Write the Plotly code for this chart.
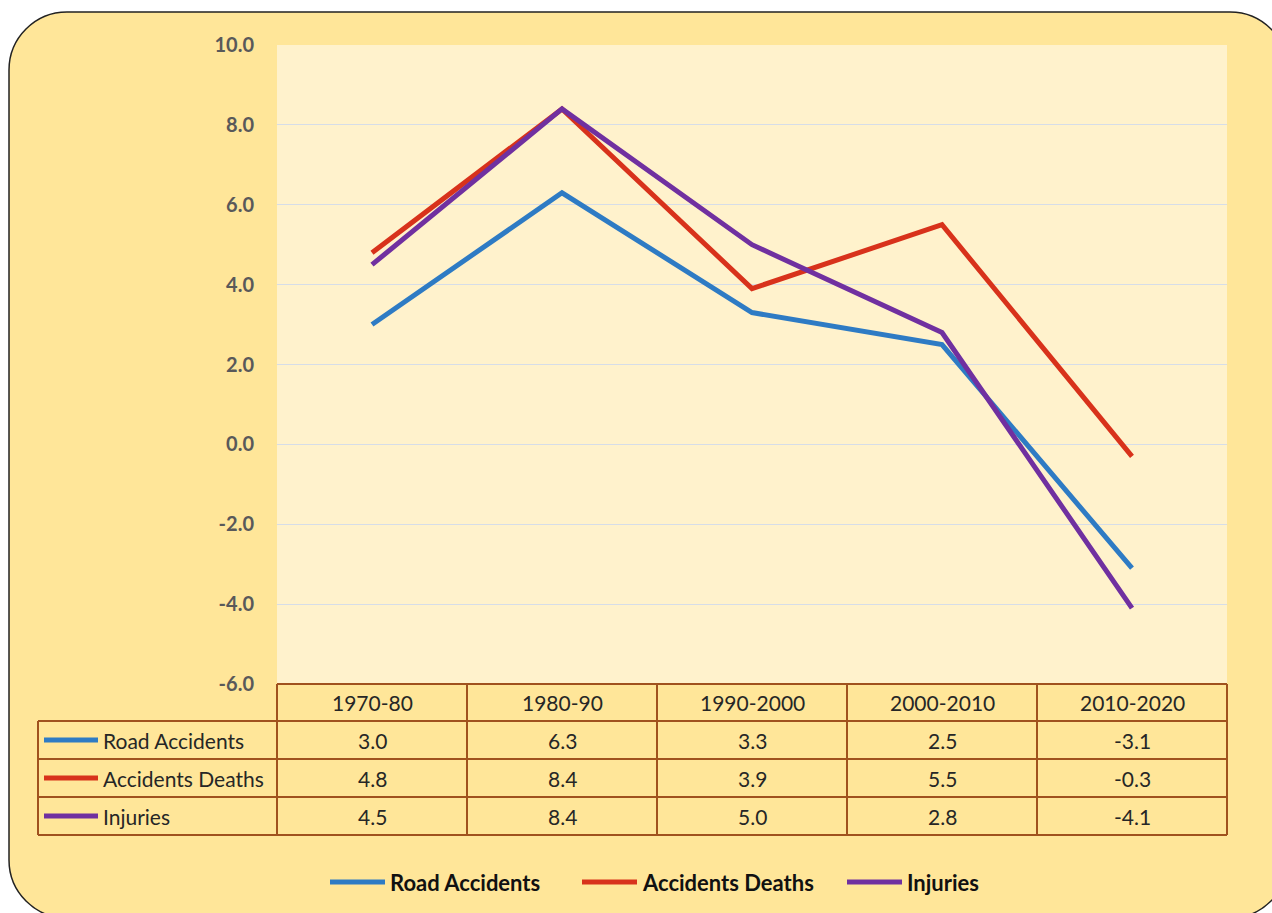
import plotly.graph_objects as go

# ---- data ----
periods = ["1970-80", "1980-90", "1990-2000", "2000-2010", "2010-2020"]
road_accidents = [3.0, 6.3, 3.3, 2.5, -3.1]
accident_deaths = [4.8, 8.4, 3.9, 5.5, -0.3]
injuries = [4.5, 8.4, 5.0, 2.8, -4.1]
series_names = ["Road Accidents", "Accidents Deaths", "Injuries"]
series_values = [road_accidents, accident_deaths, injuries]
series_colors = ["#2E7BC4", "#D8321B", "#7030A0"]
y_ticks = [10, 8, 6, 4, 2, 0, -2, -4, -6]

# ---- layout helpers (pixels -> paper) ----
W, H = 1272, 913
def px(x):
    return x / W
def py(y):
    return 1 - y / H

plot_l, plot_r, plot_t, plot_b = 277, 1227, 45, 684
row_edges = [684, 721, 759, 797, 835]
label_l = 38
table_color = "#A0521E"
text_color = "#262626"
FONT = "Lato"
TFS = 21

fig = go.Figure()
for name, vals, col in zip(series_names, series_values, series_colors):
    fig.add_trace(go.Scatter(
        x=list(range(len(periods))), y=vals, name=name, mode="lines",
        line=dict(color=col, width=5), hoverinfo="skip", showlegend=False))

shapes = []
# outer rounded rectangle
L, T, R, B, r = 9, 12, 1288, 918, 58
k = 0.5523 * r
def P(x, y):
    return f"{px(x):.5f},{py(y):.5f}"
path = (f"M {P(L, T + r)} C {P(L, T + r - k)} {P(L + r - k, T)} {P(L + r, T)} "
        f"L {P(R - r, T)} C {P(R - r + k, T)} {P(R, T + r - k)} {P(R, T + r)} "
        f"L {P(R, B - r)} C {P(R, B - r + k)} {P(R - r + k, B)} {P(R - r, B)} "
        f"L {P(L + r, B)} C {P(L + r - k, B)} {P(L, B - r + k)} {P(L, B - r)} Z")
shapes.append(dict(type="path", path=path, xref="paper", yref="paper",
                   fillcolor="#FFE699", line=dict(color="#222222", width=1.5),
                   layer="below"))
# plot area background
shapes.append(dict(type="rect", xref="paper", yref="paper",
                   x0=px(plot_l), x1=px(plot_r), y0=py(plot_b), y1=py(plot_t),
                   fillcolor="#FFF2CC", line=dict(width=0), layer="below"))

# table grid
n = len(periods)
colw = (plot_r - plot_l) / n
lw = 2
shapes.append(dict(type="line", xref="paper", yref="paper",
                   x0=px(plot_l), x1=px(plot_r), y0=py(row_edges[0]), y1=py(row_edges[0]),
                   line=dict(color=table_color, width=lw)))
for ye in row_edges[1:]:
    shapes.append(dict(type="line", xref="paper", yref="paper",
                       x0=px(label_l), x1=px(plot_r), y0=py(ye), y1=py(ye),
                       line=dict(color=table_color, width=lw)))
shapes.append(dict(type="line", xref="paper", yref="paper",
                   x0=px(label_l), x1=px(label_l), y0=py(row_edges[1]), y1=py(row_edges[-1]),
                   line=dict(color=table_color, width=lw)))
for i in range(n + 1):
    xe = plot_l + i * colw
    shapes.append(dict(type="line", xref="paper", yref="paper",
                       x0=px(xe), x1=px(xe), y0=py(row_edges[0]), y1=py(row_edges[-1]),
                       line=dict(color=table_color, width=lw)))

annotations = []
hdr_y = (row_edges[0] + row_edges[1]) / 2
for i, p in enumerate(periods):
    annotations.append(dict(x=i, xref="x", y=py(hdr_y), yref="paper", text=p,
                            xanchor="center", yanchor="middle",
                            showarrow=False, font=dict(family=FONT, size=TFS, color=text_color)))
for j, (name, vals, col) in enumerate(zip(series_names, series_values, series_colors)):
    yc = (row_edges[j + 1] + row_edges[j + 2]) / 2
    shapes.append(dict(type="line", xref="paper", yref="paper",
                       x0=px(44), x1=px(98), y0=py(yc), y1=py(yc),
                       line=dict(color=col, width=5)))
    annotations.append(dict(x=px(101), xref="paper", y=py(yc), yref="paper", text=name,
                            xanchor="left", yanchor="middle", showarrow=False,
                            font=dict(family=FONT, size=TFS, color=text_color)))
    for i, v in enumerate(vals):
        annotations.append(dict(x=i, xref="x", y=py(yc), yref="paper", text=f"{v:.1f}",
                                xanchor="center", yanchor="middle",
                                showarrow=False, font=dict(family=FONT, size=TFS, color=text_color)))

# bottom legend (drawn manually)
leg_y = 882
leg_line_x = [330, 582, 847]
for name, col, lx in zip(series_names, series_colors, leg_line_x):
    shapes.append(dict(type="line", xref="paper", yref="paper",
                       x0=px(lx), x1=px(lx + 55), y0=py(leg_y), y1=py(leg_y),
                       line=dict(color=col, width=5)))
    annotations.append(dict(x=px(lx + 58), xref="paper", y=py(leg_y), yref="paper", text=name,
                            xanchor="left", yanchor="middle", showarrow=False,
                            font=dict(family=FONT, size=22, color="#111111", weight="bold")))

fig.update_layout(
    width=W, height=H, autosize=False,
    margin=dict(l=0, r=0, t=0, b=0, pad=0, autoexpand=False),
    paper_bgcolor="white", plot_bgcolor="rgba(0,0,0,0)",
    shapes=shapes, annotations=annotations,
    xaxis=dict(domain=[px(plot_l), px(plot_r)], range=[-0.5, n - 0.5],
               showticklabels=False, showgrid=False, zeroline=False, showline=False),
    yaxis=dict(domain=[py(plot_b), py(plot_t)], range=[-6, 10],
               tickvals=y_ticks, ticktext=[f"{t:.1f}" for t in y_ticks],
               tickfont=dict(family=FONT, size=20, color="#595959", weight="bold"),
               ticklabelstandoff=22, ticks="",
               showgrid=True, gridcolor="#D6DDE8", gridwidth=1.2,
               zeroline=False, showline=False),
    showlegend=False,
)

fig.write_html("out.html", config={"displayModeBar": False},
               post_script="document.body.style.margin='0';document.body.style.overflow='hidden';")
